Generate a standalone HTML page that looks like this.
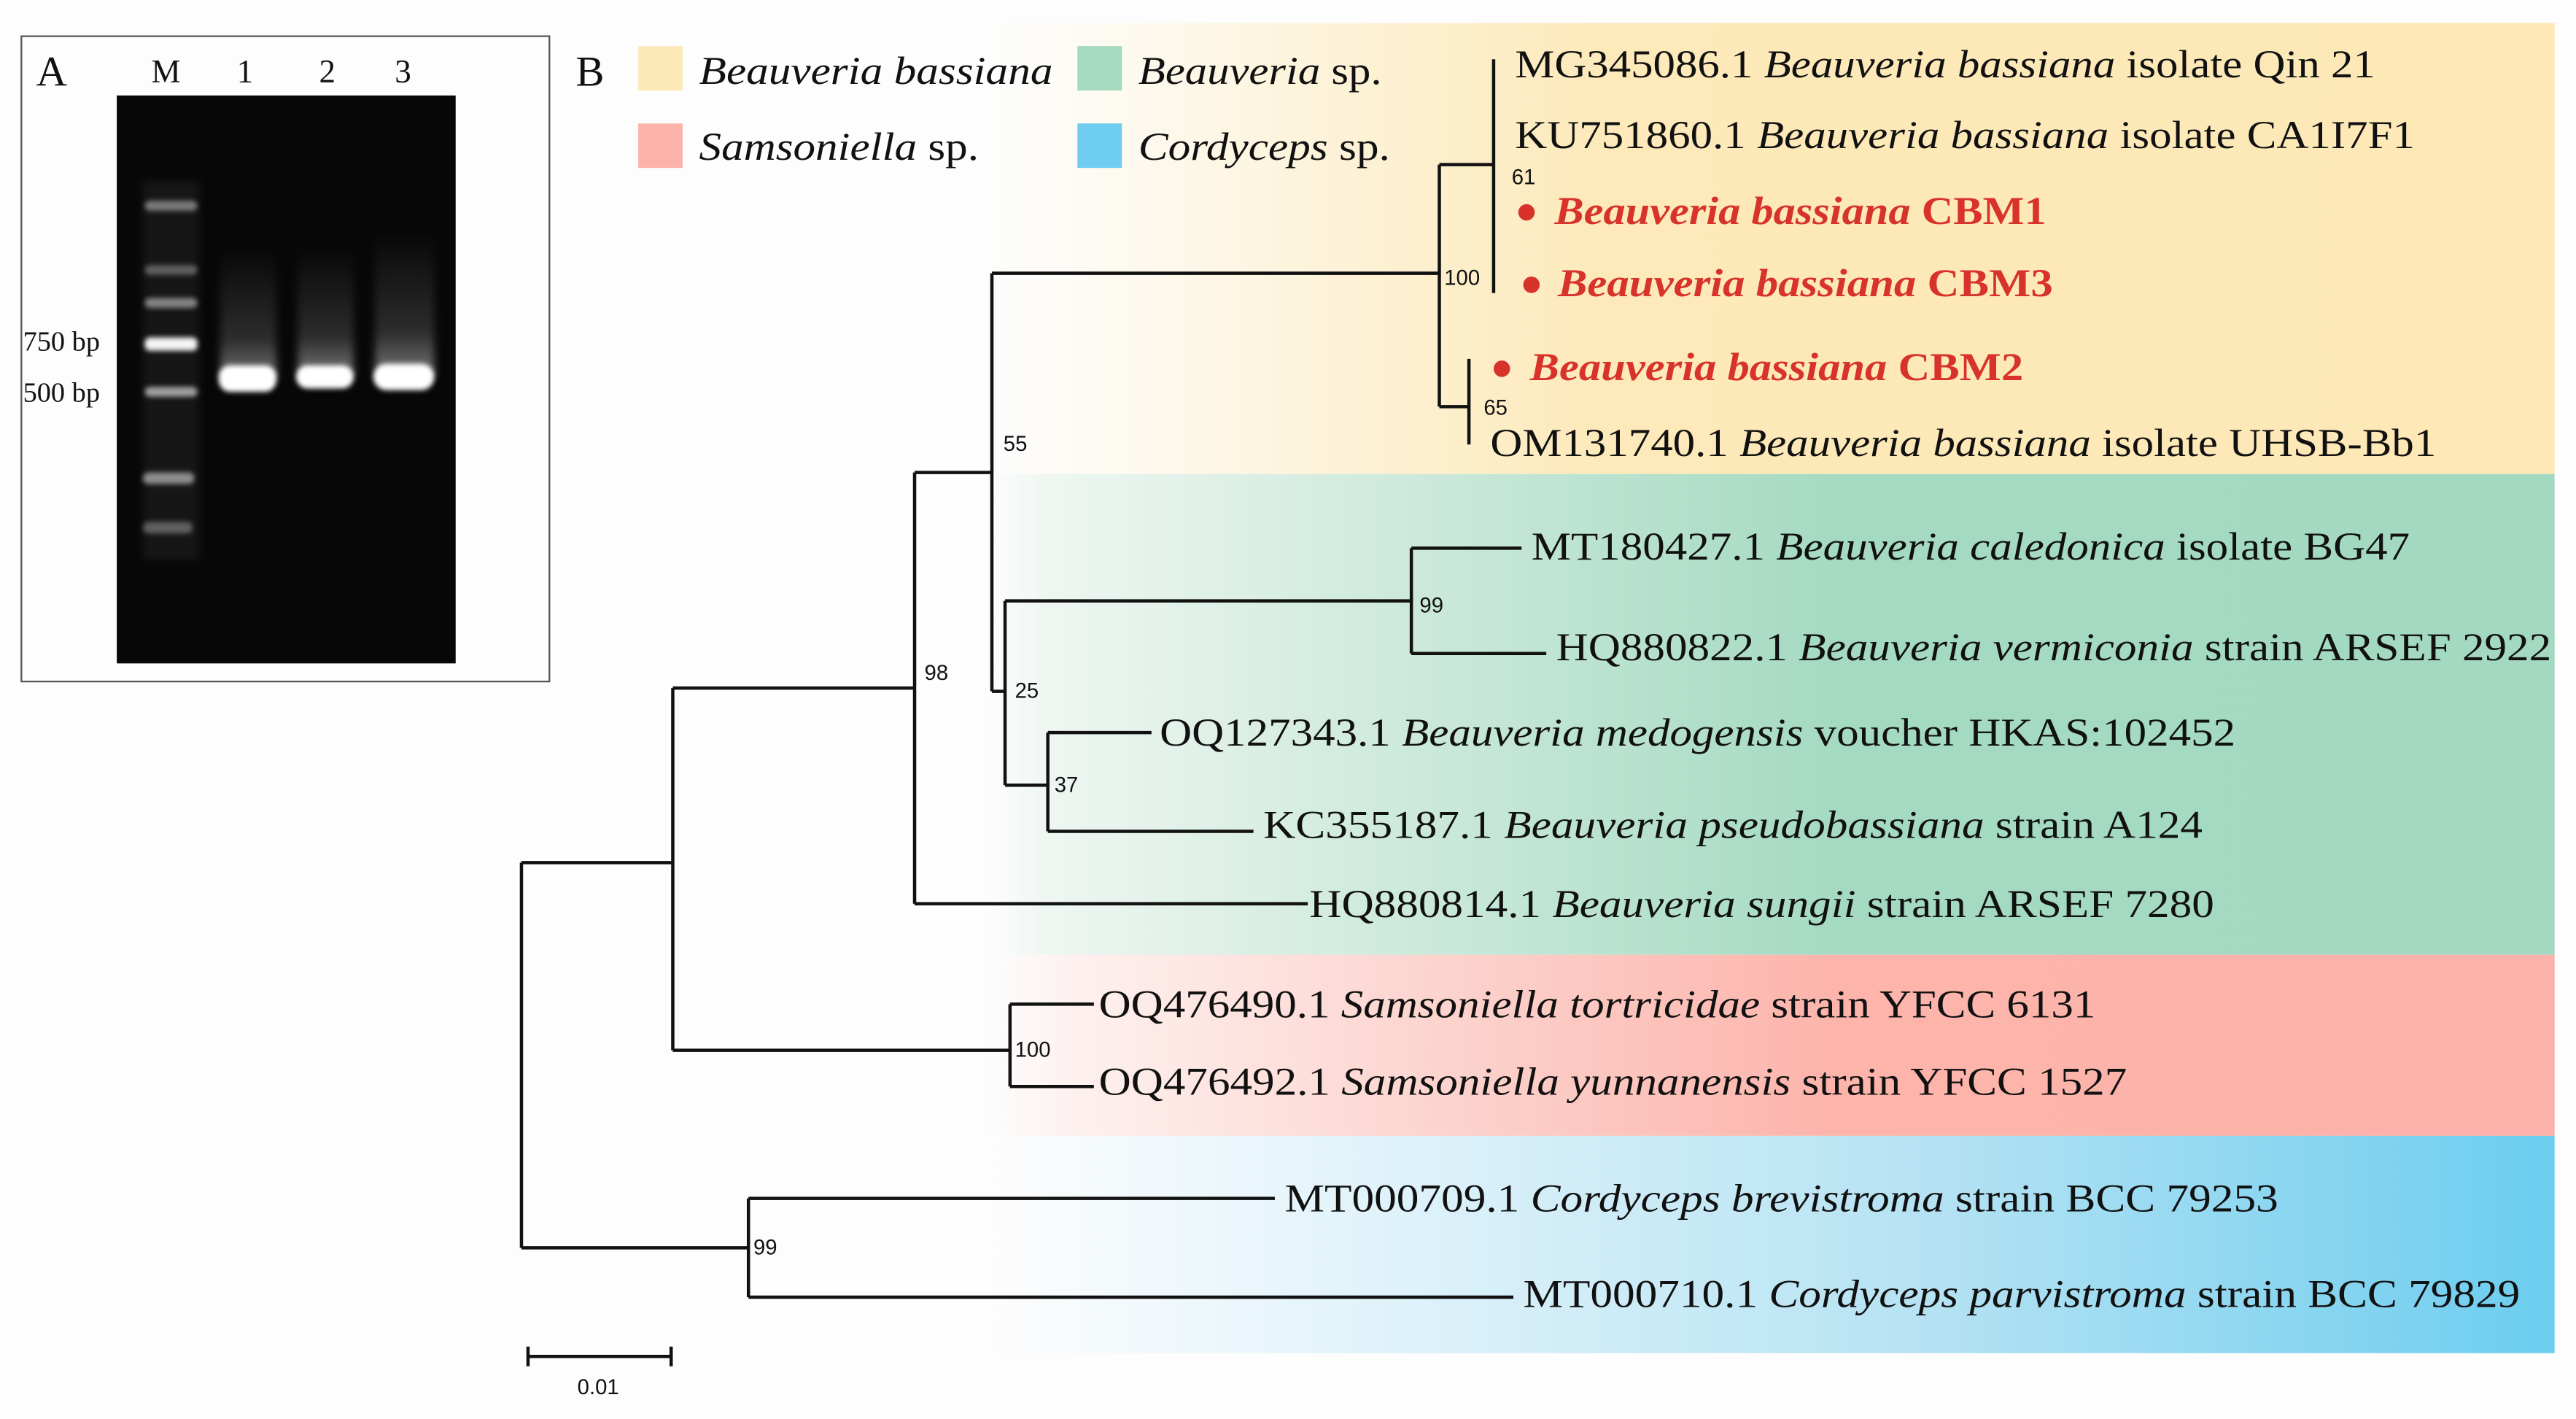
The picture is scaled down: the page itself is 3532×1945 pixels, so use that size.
<!DOCTYPE html>
<html><head><meta charset="utf-8"><style>
html,body{margin:0;padding:0;background:#fdfdfd;}
svg{display:block;}
.t{font-family:"Liberation Serif",serif;font-size:24px;fill:#111;}
.r{font-family:"Liberation Serif",serif;font-size:24px;fill:#d8332b;font-weight:bold;font-style:italic;}
.b{font-family:"Liberation Sans",sans-serif;font-size:13px;fill:#111;}
.l{stroke:#111;stroke-width:2;fill:none;}
</style></head><body>
<svg width="3532" height="1945" viewBox="0 0 1566 862" preserveAspectRatio="none" xmlns="http://www.w3.org/2000/svg">
<defs>
<linearGradient id="gy" x1="0" x2="1"><stop offset="0" stop-color="#fdfdfd"/><stop offset="0.04" stop-color="#fdfcf8"/><stop offset="0.4" stop-color="#fde9b9"/><stop offset="1" stop-color="#fde8b6"/></linearGradient>
<linearGradient id="gg" x1="0" x2="1"><stop offset="0" stop-color="#fdfdfd"/><stop offset="0.04" stop-color="#eef6f1"/><stop offset="0.54" stop-color="#a5dac2"/><stop offset="1" stop-color="#a4d9c1"/></linearGradient>
<linearGradient id="gp" x1="0" x2="1"><stop offset="0" stop-color="#fdfdfd"/><stop offset="0.06" stop-color="#fdf0ee"/><stop offset="0.54" stop-color="#fcb4ab"/><stop offset="1" stop-color="#fcb2aa"/></linearGradient>
<linearGradient id="gb" x1="0" x2="1"><stop offset="0" stop-color="#fdfdfd"/><stop offset="0.2" stop-color="#e6f5fb"/><stop offset="0.6" stop-color="#b5e2f3"/><stop offset="1" stop-color="#6ccdef"/></linearGradient>
<linearGradient id="sm" x1="0" y1="0" x2="0" y2="1"><stop offset="0" stop-color="#fff" stop-opacity="0"/><stop offset="0.7" stop-color="#fff" stop-opacity="0.15"/><stop offset="1" stop-color="#fff" stop-opacity="0.45"/></linearGradient>
<filter id="blur" x="-50%" y="-50%" width="200%" height="200%"><feGaussianBlur stdDeviation="2.5"/></filter>
<filter id="blur2" x="-50%" y="-50%" width="200%" height="200%"><feGaussianBlur stdDeviation="1.5"/></filter>
<clipPath id="gel"><rect x="71" y="58" width="206" height="345"/></clipPath>
</defs>
<rect x="0" y="0" width="1566" height="862" fill="#fdfdfd"/>
<rect x="600" y="14" width="953" height="274" fill="url(#gy)"/>
<rect x="600" y="288" width="953" height="292" fill="url(#gg)"/>
<rect x="600" y="580" width="953" height="110" fill="url(#gp)"/>
<rect x="600" y="690" width="953" height="132" fill="url(#gb)"/>

<!-- Panel A -->
<rect x="13" y="22" width="321" height="392" fill="#fdfdfd" stroke="#555" stroke-width="1"/>
<rect x="71" y="58" width="206" height="345" fill="#070707"/>
<g clip-path="url(#gel)">
<g filter="url(#blur)">
<rect x="87" y="110" width="34" height="230" fill="#fff" opacity="0.06"/>
<rect x="134" y="150" width="34" height="80" fill="url(#sm)"/>
<rect x="181" y="150" width="34" height="78" fill="url(#sm)"/>
<rect x="228" y="140" width="36" height="88" fill="url(#sm)"/>
</g>
<g filter="url(#blur2)" fill="#ccc">
<rect x="88" y="122" width="32" height="6" rx="3" opacity="0.55"/>
<rect x="88" y="161" width="32" height="6" rx="3" opacity="0.4"/>
<rect x="88" y="181" width="32" height="6" rx="3" opacity="0.6"/>
<rect x="88" y="205" width="32" height="8" rx="3" fill="#f4f4f4"/>
<rect x="88" y="235" width="32" height="6" rx="3" opacity="0.75"/>
<rect x="87" y="287" width="31" height="7" rx="3" opacity="0.65"/>
<rect x="87" y="317" width="30" height="7" rx="3" opacity="0.4"/>
<rect x="133" y="222" width="35" height="16" rx="7" fill="#fff"/>
<rect x="180" y="222" width="35" height="14" rx="7" fill="#fff"/>
<rect x="227" y="221" width="37" height="16" rx="8" fill="#fff"/>
</g>
</g>
<text x="22" y="52" class="t" style="font-size:26px">A</text>
<text x="92" y="50" class="t" style="font-size:20px">M</text>
<text x="144" y="50" class="t" style="font-size:20px">1</text>
<text x="194" y="50" class="t" style="font-size:20px">2</text>
<text x="240" y="50" class="t" style="font-size:20px">3</text>
<text x="14" y="213" class="t" style="font-size:17px">750 bp</text>
<text x="14" y="244" class="t" style="font-size:17px">500 bp</text>

<!-- Legend -->
<text x="350" y="52" class="t" style="font-size:26px">B</text>
<rect x="388" y="28" width="27" height="27" fill="#fde9b8"/>
<rect x="388" y="75" width="27" height="27" fill="#fcb3aa"/>
<rect x="655" y="28" width="27" height="27" fill="#a4dac0"/>
<rect x="655" y="75" width="27" height="27" fill="#6ecdf0"/>
<text x="425" y="51" class="t" font-style="italic" textLength="215" lengthAdjust="spacingAndGlyphs">Beauveria bassiana</text>
<text x="425" y="97" class="t" textLength="170" lengthAdjust="spacingAndGlyphs"><tspan font-style="italic">Samsoniella</tspan> sp.</text>
<text x="692" y="51" class="t" textLength="148" lengthAdjust="spacingAndGlyphs"><tspan font-style="italic">Beauveria</tspan> sp.</text>
<text x="692" y="97" class="t" textLength="153" lengthAdjust="spacingAndGlyphs"><tspan font-style="italic">Cordyceps</tspan> sp.</text>

<!-- Tree -->
<path class="l" d="
M317 524 V758 M317 524 H409 M317 758 H455
M409 418 V638 M409 418 H556 M409 638 H614
M556 287 V549 M556 287 H603 M556 549 H795
M603 166 V420 M603 166 H875 M603 420 H611
M875 100 V247 M875 100 H908 M875 247 H893
M908 36 V178
M893 218 V270
M611 365 V477 M611 365 H858 M611 477 H637
M858 333 V397 M858 333 H925 M858 397 H940
M637 445 V505 M637 445 H700 M637 505 H762
M614 610 V660 M614 610 H665 M614 660 H665
M455 728 V788 M455 728 H775 M455 788 H920
M321 824 H408 M321 818 V830 M408 818 V830"/>

<text x="562" y="413" class="b">98</text>
<text x="610" y="274" class="b">55</text>
<text x="878" y="173" class="b">100</text>
<text x="919" y="112" class="b">61</text>
<text x="902" y="252" class="b">65</text>
<text x="617" y="424" class="b">25</text>
<text x="863" y="372" class="b">99</text>
<text x="641" y="481" class="b">37</text>
<text x="617" y="642" class="b">100</text>
<text x="458" y="762" class="b">99</text>
<text x="351" y="847" class="b">0.01</text>

<text x="921" y="47" class="t" textLength="523" lengthAdjust="spacingAndGlyphs">MG345086.1 <tspan font-style="italic">Beauveria bassiana</tspan> isolate Qin 21</text>
<text x="921" y="90" class="t" textLength="547" lengthAdjust="spacingAndGlyphs">KU751860.1 <tspan font-style="italic">Beauveria bassiana</tspan> isolate CA1I7F1</text>
<circle cx="928" cy="129" r="5" fill="#d8332b"/>
<text x="945" y="136" class="r" textLength="299" lengthAdjust="spacingAndGlyphs">Beauveria bassiana <tspan font-style="normal">CBM1</tspan></text>
<circle cx="931" cy="173" r="5" fill="#d8332b"/>
<text x="947" y="180" class="r" textLength="301" lengthAdjust="spacingAndGlyphs">Beauveria bassiana <tspan font-style="normal">CBM3</tspan></text>
<circle cx="913" cy="224" r="5" fill="#d8332b"/>
<text x="930" y="231" class="r" textLength="300" lengthAdjust="spacingAndGlyphs">Beauveria bassiana <tspan font-style="normal">CBM2</tspan></text>
<text x="906" y="277" class="t" textLength="575" lengthAdjust="spacingAndGlyphs">OM131740.1 <tspan font-style="italic">Beauveria bassiana</tspan> isolate UHSB-Bb1</text>
<text x="931" y="340" class="t" textLength="534" lengthAdjust="spacingAndGlyphs">MT180427.1 <tspan font-style="italic">Beauveria caledonica</tspan> isolate BG47</text>
<text x="946" y="401" class="t" textLength="605" lengthAdjust="spacingAndGlyphs">HQ880822.1 <tspan font-style="italic">Beauveria vermiconia</tspan> strain ARSEF 2922</text>
<text x="705" y="453" class="t" textLength="654" lengthAdjust="spacingAndGlyphs">OQ127343.1 <tspan font-style="italic">Beauveria medogensis</tspan> voucher HKAS:102452</text>
<text x="768" y="509" class="t" textLength="571" lengthAdjust="spacingAndGlyphs">KC355187.1 <tspan font-style="italic">Beauveria pseudobassiana</tspan> strain A124</text>
<text x="796" y="557" class="t" textLength="550" lengthAdjust="spacingAndGlyphs">HQ880814.1 <tspan font-style="italic">Beauveria sungii</tspan> strain ARSEF 7280</text>
<text x="668" y="618" class="t" textLength="606" lengthAdjust="spacingAndGlyphs">OQ476490.1 <tspan font-style="italic">Samsoniella tortricidae</tspan> strain YFCC 6131</text>
<text x="668" y="665" class="t" textLength="625" lengthAdjust="spacingAndGlyphs">OQ476492.1 <tspan font-style="italic">Samsoniella yunnanensis</tspan> strain YFCC 1527</text>
<text x="781" y="736" class="t" textLength="604" lengthAdjust="spacingAndGlyphs">MT000709.1 <tspan font-style="italic">Cordyceps brevistroma</tspan> strain BCC 79253</text>
<text x="926" y="794" class="t" textLength="606" lengthAdjust="spacingAndGlyphs">MT000710.1 <tspan font-style="italic">Cordyceps parvistroma</tspan> strain BCC 79829</text>
</svg>
</body></html>
